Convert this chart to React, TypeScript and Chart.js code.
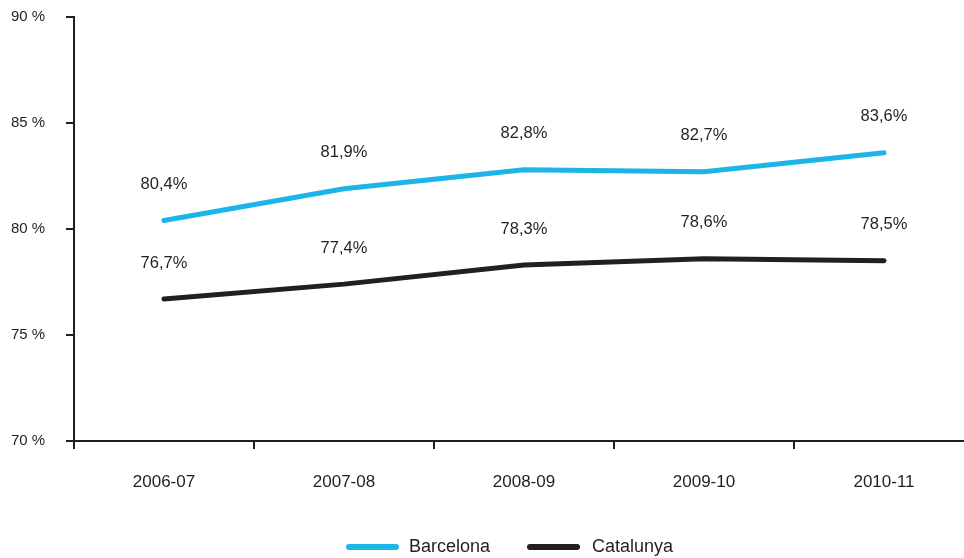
import React, { useEffect, useRef } from "react";
import { Chart, registerables } from "chart.js";

Chart.register(...registerables);

const categories = ["2006-07", "2007-08", "2008-09", "2009-10", "2010-11"];
const barcelona = [80.4, 81.9, 82.8, 82.7, 83.6];
const catalunya = [76.7, 77.4, 78.3, 78.6, 78.5];
const yTicks = [70, 75, 80, 85, 90];
const seriesNames = ["Barcelona", "Catalunya"];
const seriesColors = ["#1bb5e8", "#231f20"];

const INK = "#231f20";
const FONT = "'Liberation Sans', Arial, sans-serif";

const fmt = (v: number) => v.toFixed(1).replace(".", ",") + "%";

const valueLabels = {
  id: "valueLabels",
  afterDatasetsDraw(chart: any) {
    const ctx = chart.ctx;
    ctx.save();
    ctx.fillStyle = INK;
    ctx.font = `16.5px ${FONT}`;
    ctx.textAlign = "center";
    ctx.textBaseline = "middle";
    chart.data.datasets.forEach((ds: any, i: number) => {
      const meta = chart.getDatasetMeta(i);
      meta.data.forEach((pt: any, j: number) => {
        ctx.fillText(fmt(ds.data[j]), pt.x, pt.y - 36);
      });
    });
    ctx.restore();
  },
};

const customLegend = {
  id: "customLegend",
  afterDraw(chart: any) {
    const ctx = chart.ctx;
    ctx.save();
    const y = 547;
    const lineStarts = [349, 530];
    const textStarts = [409, 592];
    chart.data.datasets.forEach((ds: any, i: number) => {
      const x0 = lineStarts[i];
      ctx.strokeStyle = ds.borderColor;
      ctx.lineWidth = 6;
      ctx.lineCap = "round";
      ctx.beginPath();
      ctx.moveTo(x0, y);
      ctx.lineTo(x0 + 47, y);
      ctx.stroke();
      ctx.fillStyle = INK;
      ctx.font = `18px ${FONT}`;
      ctx.textAlign = "left";
      ctx.textBaseline = "middle";
      ctx.fillText(ds.label, textStarts[i], y);
    });
    ctx.restore();
  },
};

export default function App() {
  const ref = useRef<HTMLCanvasElement>(null);
  useEffect(() => {
    if (!ref.current) return;
    const chart = new Chart(ref.current, {
      type: "line",
      data: {
        labels: categories,
        datasets: [
          {
            label: seriesNames[0],
            data: barcelona,
            borderColor: seriesColors[0],
            backgroundColor: seriesColors[0],
            borderWidth: 5,
            pointRadius: 0,
            tension: 0,
            borderCapStyle: "round",
          },
          {
            label: seriesNames[1],
            data: catalunya,
            borderColor: seriesColors[1],
            backgroundColor: seriesColors[1],
            borderWidth: 5,
            pointRadius: 0,
            tension: 0,
            borderCapStyle: "round",
          },
        ],
      },
      options: {
        responsive: false,
        animation: false,
        layout: { padding: { top: 17, right: 6, bottom: 0, left: 11 } },
        plugins: {
          legend: { display: false },
          tooltip: { enabled: false },
        },
        scales: {
          x: {
            offset: true,
            grid: {
              offset: true,
              drawOnChartArea: false,
              drawTicks: true,
              tickLength: 8,
              color: INK,
              lineWidth: 2,
            },
            border: { color: INK, width: 2 },
            ticks: {
              color: INK,
              font: { family: FONT, size: 17 },
              padding: 23,
              maxRotation: 0,
            },
            afterFit: (s: any) => {
              s.height = 117;
            },
          },
          y: {
            min: 70,
            max: 90,
            afterBuildTicks: (s: any) => {
              s.ticks = yTicks.map((v) => ({ value: v }));
            },
            grid: {
              drawOnChartArea: false,
              drawTicks: true,
              tickLength: 8,
              color: INK,
              lineWidth: 2,
            },
            border: { color: INK, width: 2 },
            ticks: {
              color: INK,
              font: { family: FONT, size: 15 },
              padding: 2,
              crossAlign: "far",
              callback: (v: any) => String(v) + " %",
            },
            afterFit: (s: any) => {
              s.width = 63;
            },
          },
        },
      },
      plugins: [valueLabels, customLegend],
    });
    return () => chart.destroy();
  }, []);
  return (
    <div
      style={{
        position: "absolute",
        left: 0,
        top: 0,
        width: 964,
        height: 558,
        overflow: "hidden",
        background: "#fff",
      }}
    >
      <canvas ref={ref} width={980} height={558} style={{ display: "block" }} />
    </div>
  );
}
